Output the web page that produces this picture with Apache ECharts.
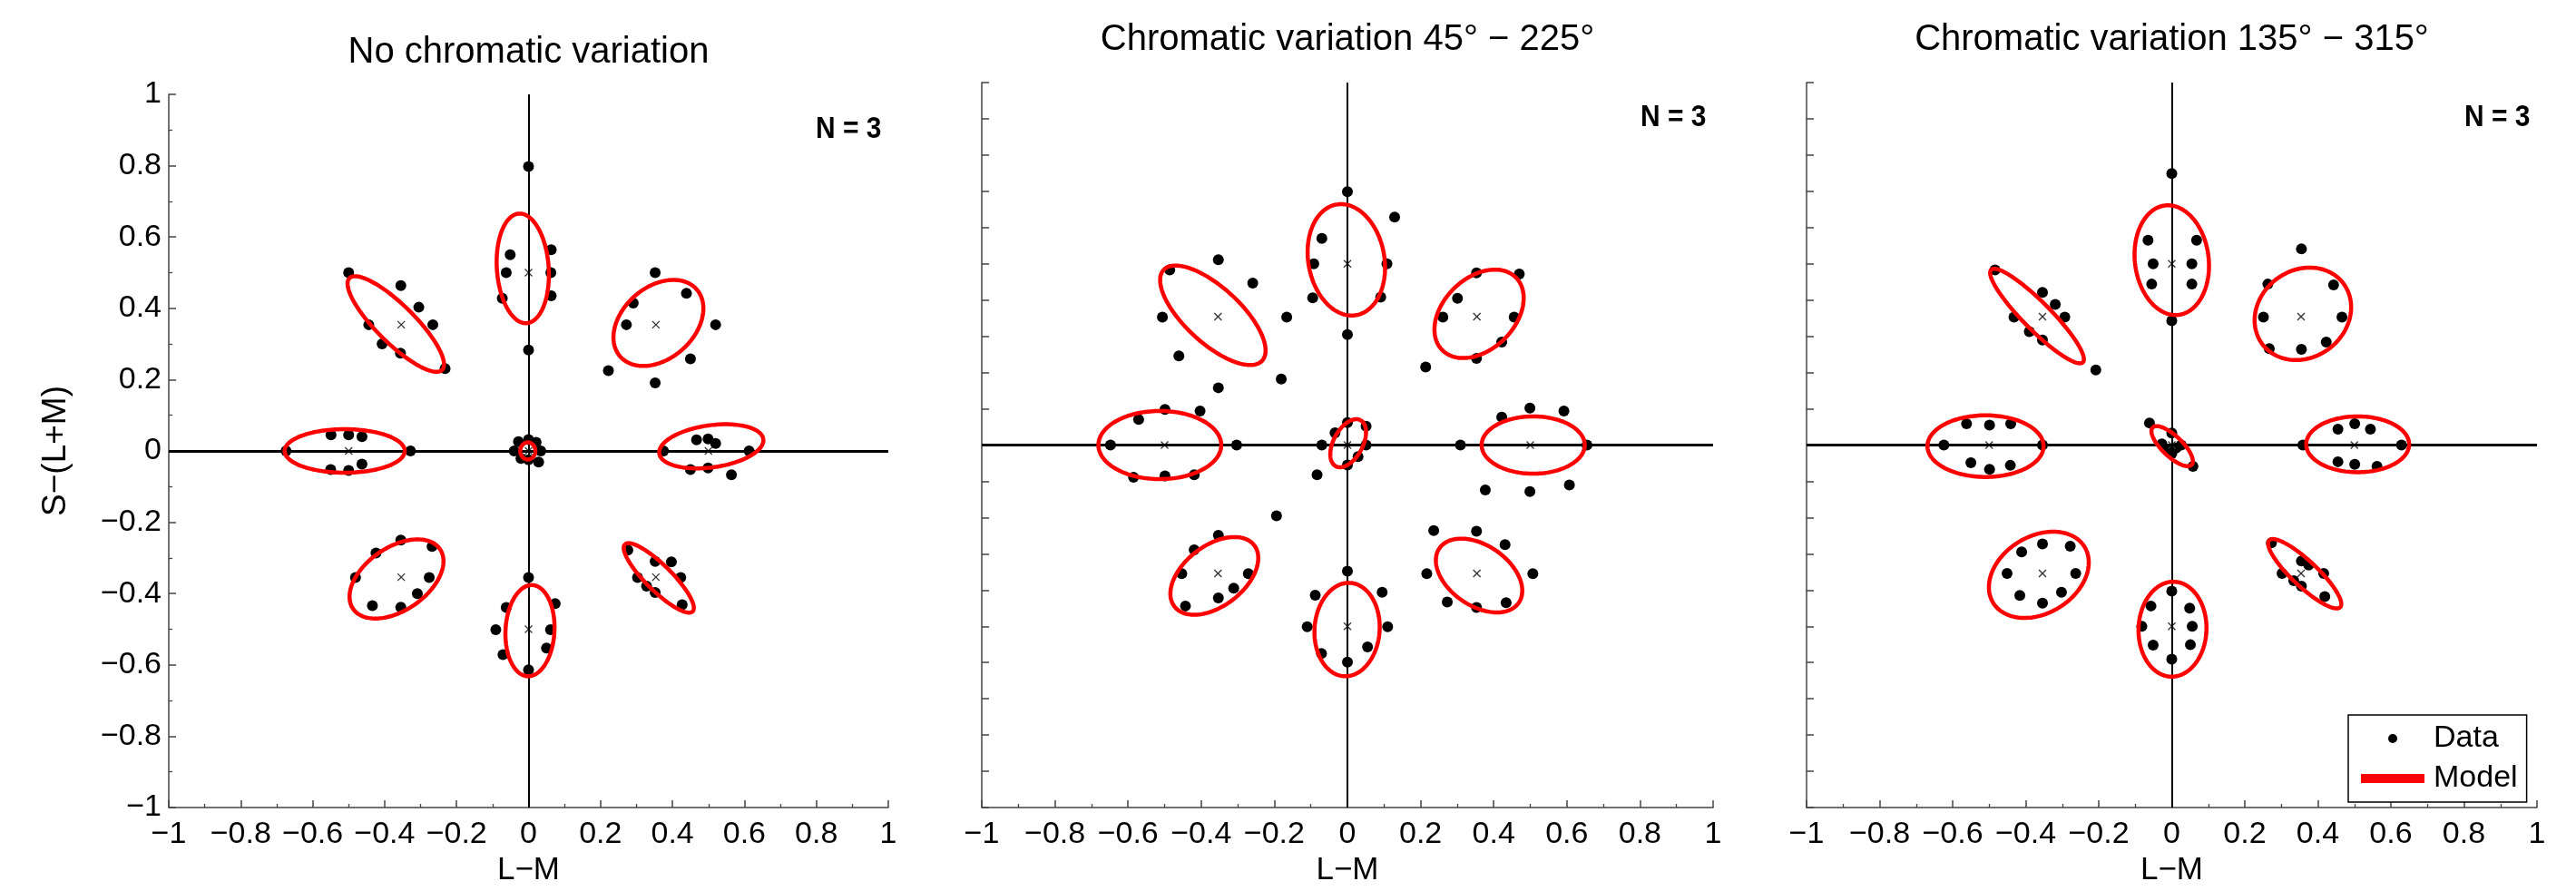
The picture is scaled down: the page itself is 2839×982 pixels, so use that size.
<!DOCTYPE html>
<html>
<head>
<meta charset="utf-8">
<script src="https://cdn.jsdelivr.net/npm/echarts@6/dist/echarts.min.js"></script>
<style>
  html, body { margin: 0; padding: 0; background: #fff; }
  #chart { width: 2839px; height: 982px; }
</style>
</head>
<body>
<div id="chart"></div>
<script>
// Panel headings and the per-panel sample-size note
const panelTitles = [
  'No chromatic variation',
  'Chromatic variation 45\u00b0 \u2212 225\u00b0',
  'Chromatic variation 135\u00b0 \u2212 315\u00b0'
];
const sampleNote = 'N = 3';

// Target colours: eight directions at radius 0.5 plus the achromatic point
const targets = [
  [0, 0.5], [-0.354, 0.354], [0.354, 0.354], [-0.5, 0], [0.5, 0],
  [0, 0], [-0.354, -0.354], [0, -0.5], [0.354, -0.354]
];

// Observer settings (L-M, S-(L+M)) for each condition
const dataNoVar = [
  [0, 0.798], [-0.051, 0.550], [-0.062, 0.500], [-0.073, 0.428], [0.063, 0.564], [0.062, 0.500], [0.063, 0.435], [0, 0.283],
  [-0.500, 0.500], [-0.355, 0.464], [-0.305, 0.403], [-0.266, 0.354], [-0.444, 0.354], [-0.407, 0.300], [-0.356, 0.274], [-0.232, 0.231],
  [0.352, 0.500], [0.439, 0.442], [0.291, 0.415], [0.272, 0.354], [0.520, 0.354], [0.450, 0.258], [0.222, 0.225], [0.352, 0.191],
  [-0.549, 0.045], [-0.500, 0.045], [-0.463, 0.040], [-0.674, 0], [-0.328, 0], [-0.550, -0.052], [-0.500, -0.055], [-0.463, -0.037],
  [0.467, 0.031], [0.499, 0.034], [0.520, 0.021], [0.375, 0], [0.613, 0], [0.450, -0.052], [0.499, -0.048], [0.564, -0.067],
  [-0.028, 0.026], [0, 0.032], [0.021, 0.024], [-0.040, 0], [0.034, 0], [-0.021, -0.021], [0, -0.025], [0.028, -0.031],
  [-0.355, -0.250], [-0.424, -0.286], [-0.268, -0.268], [-0.481, -0.355], [-0.276, -0.355], [-0.309, -0.400], [-0.434, -0.434], [-0.355, -0.438],
  [0, -0.355], [-0.062, -0.439], [0.074, -0.428], [-0.091, -0.501], [0.061, -0.501], [-0.071, -0.571], [0.050, -0.553], [0, -0.614],
  [0.276, -0.278], [0.352, -0.310], [0.397, -0.311], [0.303, -0.355], [0.423, -0.355], [0.328, -0.379], [0.352, -0.397], [0.427, -0.431]
];
const data45 = [
  [0, 0.699], [0.129, 0.629], [-0.070, 0.570], [-0.092, 0.500], [0.108, 0.500], [-0.095, 0.406], [0.091, 0.408], [0, 0.305],
  [-0.353, 0.511], [-0.486, 0.483], [-0.259, 0.447], [-0.506, 0.353], [-0.166, 0.353], [-0.461, 0.246], [-0.181, 0.182], [-0.353, 0.158],
  [0.353, 0.475], [0.470, 0.472], [0.301, 0.405], [0.261, 0.353], [0.456, 0.353], [0.422, 0.284], [0.353, 0.239], [0.214, 0.215],
  [-0.648, 0], [-0.303, 0], [-0.571, 0.071], [-0.499, 0.098], [-0.403, 0.094], [-0.585, -0.089], [-0.499, -0.085], [-0.419, -0.082],
  [0.309, 0], [0.655, 0], [0.422, 0.077], [0.499, 0.102], [0.592, 0.094], [0.377, -0.124], [0.499, -0.128], [0.607, -0.110],
  [0, 0.062], [0.051, 0.052], [-0.034, 0.034], [-0.070, 0], [0.051, 0], [0.029, -0.032], [0, -0.055], [-0.083, -0.082],
  [-0.353, -0.249], [-0.419, -0.289], [-0.453, -0.355], [-0.271, -0.355], [-0.311, -0.395], [-0.353, -0.422], [-0.443, -0.444], [-0.194, -0.195],
  [0, -0.348], [-0.088, -0.414], [0.095, -0.406], [-0.110, -0.501], [0.110, -0.501], [-0.071, -0.575], [0.055, -0.557], [0, -0.599],
  [0.236, -0.236], [0.353, -0.238], [0.431, -0.275], [0.217, -0.355], [0.507, -0.355], [0.273, -0.433], [0.353, -0.448], [0.434, -0.435]
];
const data135 = [
  [0, 0.749], [-0.065, 0.565], [0.068, 0.565], [-0.051, 0.500], [0.055, 0.500], [-0.055, 0.444], [0.055, 0.444], [0, 0.343],
  [-0.484, 0.483], [-0.354, 0.421], [-0.319, 0.388], [-0.432, 0.353], [-0.293, 0.353], [-0.390, 0.313], [-0.354, 0.290], [-0.208, 0.207],
  [0.355, 0.541], [0.263, 0.444], [0.443, 0.442], [0.251, 0.353], [0.466, 0.353], [0.267, 0.266], [0.355, 0.264], [0.423, 0.284],
  [-0.624, 0], [-0.354, 0], [-0.562, 0.059], [-0.499, 0.055], [-0.441, 0.059], [-0.550, -0.049], [-0.499, -0.067], [-0.442, -0.056],
  [0.359, 0], [0.629, 0], [0.455, 0.044], [0.501, 0.059], [0.544, 0.044], [0.455, -0.046], [0.501, -0.053], [0.562, -0.059],
  [-0.061, 0.061], [0, 0.033], [-0.027, 0.003], [0.026, 0], [-0.013, -0.012], [0, -0.024], [0.058, -0.059], [0.012, -0.008],
  [-0.354, -0.273], [-0.411, -0.295], [-0.278, -0.279], [-0.451, -0.354], [-0.263, -0.354], [-0.416, -0.415], [-0.302, -0.406], [-0.354, -0.436],
  [0, -0.403], [-0.057, -0.444], [0.049, -0.450], [-0.082, -0.500], [0.056, -0.500], [-0.051, -0.552], [0.051, -0.551], [0, -0.591],
  [0.273, -0.270], [0.355, -0.320], [0.375, -0.331], [0.302, -0.354], [0.416, -0.354], [0.334, -0.374], [0.355, -0.389], [0.419, -0.418]
];

// Model ellipses: [centre x, centre y, semi-major, semi-minor, major-axis angle in degrees]
const modelNoVar = [
  [-0.016, 0.512, 0.154, 0.072, 94],
  [-0.369, 0.356, 0.182, 0.053, 135],
  [0.361, 0.359, 0.142, 0.100, 42],
  [-0.511, 0.000, 0.167, 0.061, 0],
  [0.508, 0.013, 0.146, 0.059, 8],
  [-0.002, 0.000, 0.024, 0.021, 90],
  [-0.367, -0.359, 0.147, 0.088, 35],
  [0.004, -0.504, 0.128, 0.068, 87],
  [0.362, -0.356, 0.133, 0.036, 135]
];
const model45 = [
  [-0.003, 0.511, 0.155, 0.104, 100],
  [-0.368, 0.358, 0.184, 0.076, 137],
  [0.360, 0.362, 0.142, 0.098, 45],
  [-0.513, 0.000, 0.168, 0.094, 0],
  [0.508, 0.000, 0.141, 0.079, 0],
  [0.002, 0.005, 0.072, 0.040, 62],
  [-0.364, -0.361, 0.138, 0.083, 38],
  [-0.001, -0.509, 0.129, 0.089, 86],
  [0.360, -0.360, 0.132, 0.083, 145]
];
const model135 = [
  [0.000, 0.510, 0.152, 0.101, 97],
  [-0.369, 0.356, 0.179, 0.038, 134.5],
  [0.359, 0.362, 0.139, 0.120, 38],
  [-0.510, -0.003, 0.159, 0.085, 0],
  [0.509, 0.002, 0.141, 0.077, 0],
  [0.001, -0.003, 0.074, 0.028, 136],
  [-0.364, -0.358, 0.147, 0.106, 32],
  [0.002, -0.508, 0.131, 0.093, 88],
  [0.364, -0.355, 0.134, 0.035, 136.5]
];

const panelData = [dataNoVar, data45, data135];
const panelModels = [modelNoVar, model45, model135];

const FONT = '"Liberation Sans", Arial, Helvetica, sans-serif';
const AXIS_GREY = '#444';

// Plot rectangles of the three panels
const grids = [
  { left: 186, top: 104, width: 793, height: 792 },
  { left: 1082, top: 91, width: 806, height: 804 },
  { left: 1991, top: 91, width: 805, height: 804 }
];

function tickText(v) {
  const s = String(+Math.abs(v).toFixed(2));
  return v < -1e-9 ? '\u2212' + s : s;
}

// Outline of one model ellipse, traced in data space and mapped through the axes
function renderEllipse(params, api) {
  const cx = api.value(0), cy = api.value(1);
  const a = api.value(2), b = api.value(3);
  const th = api.value(4) * Math.PI / 180;
  const pts = [];
  const n = 160;
  for (let i = 0; i <= n; i++) {
    const t = (i / n) * Math.PI * 2;
    const x = cx + a * Math.cos(t) * Math.cos(th) - b * Math.sin(t) * Math.sin(th);
    const y = cy + a * Math.cos(t) * Math.sin(th) + b * Math.sin(t) * Math.cos(th);
    pts.push(api.coord([x, y]));
  }
  return {
    type: 'polyline',
    shape: { points: pts },
    style: { stroke: '#ff0000', lineWidth: 4.5, fill: null, lineJoin: 'round' }
  };
}

// Small "x" marking each target colour
function renderCross(params, api) {
  const p = api.coord([api.value(0), api.value(1)]);
  const s = 4;
  const st = { stroke: '#333', lineWidth: 1.3 };
  return {
    type: 'group',
    children: [
      { type: 'line', shape: { x1: p[0] - s, y1: p[1] - s, x2: p[0] + s, y2: p[1] + s }, style: st },
      { type: 'line', shape: { x1: p[0] - s, y1: p[1] + s, x2: p[0] + s, y2: p[1] - s }, style: st }
    ]
  };
}

const xAxes = [], yAxes = [], series = [], graphics = [];

grids.forEach((g, i) => {
  xAxes.push({
    gridIndex: i, type: 'value', min: -1, max: 1, interval: 0.2,
    axisLine: { onZero: false, lineStyle: { color: AXIS_GREY, width: 1.5 } },
    axisTick: { inside: true, length: 8, lineStyle: { color: AXIS_GREY, width: 1.5 } },
    minorTick: { show: true, splitNumber: 2, length: 4, lineStyle: { color: AXIS_GREY, width: 1.3 } },
    splitLine: { show: false },
    axisLabel: { margin: 13, fontSize: 34, fontFamily: FONT, color: '#000', formatter: tickText,
                 showMinLabel: true, showMaxLabel: true },
    name: 'L\u2212M', nameLocation: 'middle', nameGap: 52,
    nameTextStyle: { fontSize: 35, fontFamily: FONT, color: '#000' }
  });
  const first = i === 0;
  yAxes.push({
    gridIndex: i, type: 'value', min: -1, max: 1, interval: first ? 0.2 : 0.1,
    axisLine: { onZero: false, lineStyle: { color: AXIS_GREY, width: 1.5 } },
    axisTick: { inside: true, length: 8, lineStyle: { color: AXIS_GREY, width: 1.5 } },
    minorTick: { show: first, splitNumber: 2, length: 4, lineStyle: { color: AXIS_GREY, width: 1.3 } },
    splitLine: { show: false },
    axisLabel: { show: first, margin: 8, fontSize: 34, fontFamily: FONT, color: '#000', formatter: tickText,
                 showMinLabel: true, showMaxLabel: true },
    name: first ? 'S\u2212(L+M)' : '', nameLocation: 'middle', nameRotate: 90, nameGap: 106,
    nameTextStyle: { fontSize: 37, fontFamily: FONT, color: '#000' }
  });

  series.push({
    name: 'Data', type: 'scatter', xAxisIndex: i, yAxisIndex: i,
    data: panelData[i], symbol: 'circle', symbolSize: 12,
    itemStyle: { color: '#000', opacity: 1 },
    z: 3,
    markLine: {
      silent: true, symbol: ['none', 'none'], label: { show: false },
      data: [
        { yAxis: 0, lineStyle: { color: '#000', width: 3, type: 'solid' } },
        { xAxis: 0, lineStyle: { color: '#000', width: 2, type: 'solid' } }
      ]
    }
  });
  series.push({
    name: 'Target', type: 'custom', xAxisIndex: i, yAxisIndex: i,
    data: targets, renderItem: renderCross, encode: { x: 0, y: 1 }, z: 4
  });
  series.push({
    name: 'Model', type: 'custom', xAxisIndex: i, yAxisIndex: i,
    data: panelModels[i], renderItem: renderEllipse,
    dimensions: ['cx', 'cy', 'a', 'b', 'angle'], encode: { x: 0, y: 1 },
    itemStyle: { color: '#ff0000' }, z: 5
  });

  // Panel heading and sample size
  const titleY = i === 0 ? 58 : 44;
  graphics.push({
    type: 'text', x: g.left + g.width / 2, y: titleY,
    style: { text: panelTitles[i], font: '40px ' + FONT, fill: '#000', align: 'center', verticalAlign: 'middle' }
  });
  graphics.push({
    type: 'text', x: g.left + g.width - 80, y: g.top + 39, scaleX: 0.88, originX: 0, originY: 0,
    style: { text: sampleNote, font: 'bold 34px ' + FONT, fill: '#000', align: 'left', verticalAlign: 'middle' }
  });
});

const chart = echarts.init(document.getElementById('chart'), null, { renderer: 'canvas' });
chart.setOption({
  animation: false,
  backgroundColor: '#fff',
  grid: grids.map(g => Object.assign({ containLabel: false }, g)),
  xAxis: xAxes,
  yAxis: yAxes,
  legend: {
    left: 2588, top: 788, orient: 'vertical',
    padding: [9, 10, 9, 14], itemGap: 10, itemWidth: 70, itemHeight: 10,
    borderColor: '#000', borderWidth: 1.5, backgroundColor: '#fff',
    selectedMode: false,
    textStyle: { fontSize: 34, fontFamily: FONT, color: '#000', padding: [0, 0, 0, 5] },
    data: [{ name: 'Data', icon: 'circle' }, { name: 'Model', icon: 'rect' }]
  },
  graphic: graphics,
  series: series
});
</script>
</body>
</html>
